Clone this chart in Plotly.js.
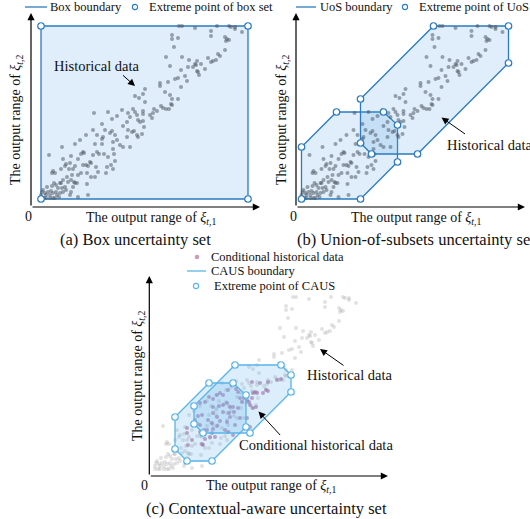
<!DOCTYPE html>
<html><head><meta charset="utf-8">
<script src="https://cdn.plot.ly/plotly-3.0.1.min.js"></script>
<style>html,body{margin:0;padding:0;background:#fff}#chart{width:530px;height:519px}</style>
</head><body><div id="chart"></div>
<script>
// Historical data (output of xi_{t,1}, xi_{t,2})
const histX = [138,141,154,176,188,190,194,194,201,170,170,131,131,137,133,184,186,185,188,184,179,177,167,172,170,175,125,141,148,156,154,155,160,152,147,140,129,164,157,158,156,144,137,134,146,127,119,119,140,124,129,104,102,137,131,130,131,120,122,125,128,116,112,113,104,
  109,111,102,103,
  94,98,92,94,102,96,97,99,102,87,89,81,76,71,67,53,61,82,86,87,91,93,96,97,101,79,82,89,86,71,69,64,62,61,56,52,74,76,72,45,54,61,72,
  39,34,21,8,42,43,40,52,56,58,63,67,73,30,37,49,50,47,45,42,22,25,24,29,34,28,32,20,12,14,11,74,70,66,72,65,55,57,54,50,46,40,37,31,30,27,33,34,36,32,30,26,22,20,19,15,13,11,10,6,7,2,0,1,4,5,9,12,15,16,18,14,12,9,5,3,0,19,22,25,21,24,46,47,37,29,17];
const histY = [173,173,171,173,173,172,172,170,167,168,163,164,160,161,152,162,160,158,159,149,143,145,141,138,137,139,142,142,139,138,135,134,135,132,132,129,133,130,127,124,128,123,121,120,118,117,116,113,112,107,104,110,105,100,100,95,94,93,91,90,90,88,86,90,97,
  84,81,88,72,
  103,101,90,87,85,84,79,77,78,86,82,89,83,80,87,86,75,73,77,69,67,68,64,62,65,54,52,52,62,68,66,69,62,60,64,69,64,59,57,64,55,55,50,
  59,55,52,44,47,46,45,44,47,45,45,42,45,43,40,37,36,33,34,34,40,35,33,36,33,30,30,30,28,26,26,38,34,32,30,26,32,27,22,22,26,26,24,24,19,17,17,16,16,12,7,22,19,16,16,14,16,13,8,12,7,9,4,7,6,4,4,6,7,4,2,1,1,1,1,1,1,6,7,9,11,12,15,4,2,4,11];

// Conditional historical data (panel c)
const condX = [97,105,113,122,126,100,102,98,111,113,92,97,95,98,89,85,83,81,77,73,68,65,62,58,54,50,45,58,64,68,72,75,78,79,74,68,58,62,53,47,43,40,45,57,62,65,72,75,85,80,92,95,58,52,49,45,32,57,70,73,78,60,55,83,87,32,33,48,50,37,47,108,101,94];
const condY = [88,87,88,90,91,78,77,77,80,79,70,72,65,62,72,72,78,81,85,80,75,77,75,71,73,68,67,63,64,65,67,63,63,58,57,58,57,53,50,55,54,50,45,47,44,49,48,53,52,45,52,43,41,40,40,38,42,37,40,38,35,33,33,62,68,37,25,25,31,30,26,77,63,68];

// Uncertainty-set extreme points
const boxX = [0, 207];
const boxY = [0, 173];
const uosLowX = [0, 35, 82, 96, 96, 59, 0];
const uosLowY = [52, 87, 87, 74, 37, 0, 0];
const uosUpX  = [59, 132, 207, 207, 116, 70, 59];
const uosUpY  = [100, 173, 173, 136, 45, 45, 56];
const causLowX = [20, 54, 78, 91, 91, 57, 32, 20];
const causLowY = [53, 87, 87, 75, 43, 9, 9, 21];
const causUpX  = [39, 80, 126, 136, 136, 95, 48, 39];
const causUpY  = [64, 105, 105, 95, 78, 37, 37, 46];

const W = 530, H = 519;
const PX = v => v / W, PY = v => 1 - v / H;
const FONT = '"Liberation Serif", "Times New Roman", serif';
const INK = '#111111';
const BLUE = '#2A7BC0', LBLUE = '#5AB4EA';
const FILL = 'rgba(95,172,228,0.20)', FILLC = 'rgba(95,178,235,0.22)';
const GRAY = 'rgba(75,85,96,0.52)', LGRAY = 'rgba(150,150,150,0.28)', PURPLE = 'rgba(170,95,150,0.62)';

const boxPX = [boxX[0], boxX[1], boxX[1], boxX[0]];
const boxPY = [boxY[0], boxY[0], boxY[1], boxY[1]];

function closed(a) { return a.concat([a[0]]); }
function poly(xs, ys, n, color, fill) {
  return {type:'scatter', mode:'lines', x:closed(xs), y:closed(ys), xaxis:'x'+n, yaxis:'y'+n,
    fill:'toself', fillcolor:fill, line:{color:color, width:1.3}, hoverinfo:'skip', showlegend:false};
}
function verts(xs, ys, n, color) {
  return {type:'scatter', mode:'markers', x:xs, y:ys, xaxis:'x'+n, yaxis:'y'+n, cliponaxis:false,
    marker:{symbol:'circle', size:6.5, color:'#ffffff', line:{color:color, width:1.2}}, hoverinfo:'skip', showlegend:false};
}
function pts(xs, ys, n, color, size) {
  return {type:'scatter', mode:'markers', x:xs, y:ys, xaxis:'x'+n, yaxis:'y'+n, cliponaxis:false,
    marker:{size:size, color:color, line:{width:0}}, hoverinfo:'skip', showlegend:false};
}

const data = [
  poly(boxPX, boxPY, '', BLUE, FILL),
  pts(histX, histY, '', GRAY, 4),
  verts(boxPX, boxPY, '', BLUE),

  poly(uosLowX, uosLowY, '2', BLUE, FILL),
  poly(uosUpX, uosUpY, '2', BLUE, FILL),
  pts(histX, histY, '2', GRAY, 4),
  verts(uosLowX, uosLowY, '2', BLUE),
  verts(uosUpX, uosUpY, '2', BLUE),

  pts(histX, histY, '3', LGRAY, 4),
  pts(condX, condY, '3', PURPLE, 4),
  poly(causLowX, causLowY, '3', LBLUE, FILLC),
  poly(causUpX, causUpY, '3', LBLUE, FILLC),
  verts(causLowX, causLowY, '3', LBLUE),
  verts(causUpX, causUpY, '3', LBLUE)
];

function txt(text, x, y, size, opts) {
  return Object.assign({xref:'paper', yref:'paper', x:PX(x), y:PY(y), text:text, showarrow:false,
    font:{family:FONT, size:size, color:INK}, xanchor:'center', yanchor:'middle'}, opts || {});
}
function arrow(hx, hy, tx, ty, w, s) {
  return {xref:'paper', yref:'paper', x:PX(hx), y:PY(hy), ax:tx - hx, ay:ty - hy, axref:'pixel', ayref:'pixel',
    text:'', showarrow:true, arrowhead:2, arrowsize:s, arrowwidth:w, arrowcolor:'#000', standoff:0, startstandoff:0};
}
const xt1 = 'The output range of <i>ξ</i><sub><i>t</i>,1</sub>';
const yt2 = 'The output range of <i>ξ</i><sub><i>t</i>,2</sub>';
const L = {xanchor:'left'};

const annotations = [
  // panel (a)
  txt('Box boundary', 48, 7, 12.5, L),
  txt('Extreme point of box set', 147, 7, 12.5, L),
  arrow(260, 207, 31, 207, 1.2, 1.2),
  arrow(31, 13, 31, 207, 1.2, 1.2),
  txt('Historical data', 97, 66, 14.5),
  arrow(135, 86, 121.5, 74, 1, 1.4),
  txt(xt1, 151, 218, 14),
  txt('0', 28, 216, 14),
  txt(yt2, 16, 120, 14, {textangle:-90}),
  txt('(a) Box uncertainty set', 135.5, 239, 16.5),
  // panel (b)
  txt('UoS boundary', 318, 7, 12.5, L),
  txt('Extreme point of UoS', 417, 7, 12.5, L),
  arrow(525, 207, 296, 207, 1.2, 1.2),
  arrow(296, 13, 296, 207, 1.2, 1.2),
  txt('Historical data', 445, 145, 14.5, L),
  arrow(441.5, 117.5, 466.5, 135, 1, 1.4),
  txt(xt1, 416, 218, 14),
  txt('0', 293, 216, 14),
  txt(yt2, 282, 120, 14, {textangle:-90}),
  txt('(b) Union-of-subsets uncertainty set', 295, 239, 16.5, L),
  // panel (c)
  txt('Conditional historical data', 209, 257, 12.5, L),
  txt('CAUS boundary', 209, 271, 12.5, L),
  txt('Extreme point of CAUS', 212, 286, 12.5, L),
  arrow(388, 476, 149.3, 476, 1.2, 1.2),
  arrow(149.3, 276, 149.3, 476, 1.2, 1.2),
  txt('Historical data', 305, 375, 14.5, L),
  arrow(320, 349, 345, 366.5, 1, 1.4),
  txt('Conditional historical data', 236.5, 445, 14.5, L),
  arrow(258.5, 411.5, 281.5, 436.5, 1, 1.4),
  txt(xt1, 271, 486, 14),
  txt('0', 144, 485, 14),
  txt(yt2, 138, 376, 14, {textangle:-90}),
  txt('(c) Contextual-aware uncertainty set', 266, 508, 16.5)
];

function legLine(x0, x1, y, color) {
  return {type:'line', xref:'paper', yref:'paper', x0:PX(x0), x1:PX(x1), y0:PY(y), y1:PY(y), line:{color:color, width:1.3}};
}
function legDot(x, y, r, line, fill) {
  return {type:'circle', xref:'paper', yref:'paper', xsizemode:'pixel', ysizemode:'pixel',
    xanchor:PX(x), yanchor:PY(y), x0:-r, x1:r, y0:-r, y1:r, line:{color:line, width:1.1}, fillcolor:fill};
}
const shapes = [
  legLine(25, 47, 7, BLUE), legDot(135, 7, 2.6, BLUE, '#fff'),
  legLine(296, 316, 7, BLUE), legDot(405, 7, 2.6, BLUE, '#fff'),
  legDot(197, 257, 2.3, 'rgba(0,0,0,0)', PURPLE),
  legLine(187, 206, 271, LBLUE), legDot(196, 286, 2.6, LBLUE, '#fff')
];

const ax = (dom, rng, anchor) => ({domain:dom, range:rng, anchor:anchor, visible:false, fixedrange:true, showgrid:false, zeroline:false});
const layout = {
  width:W, height:H, margin:{l:0, r:0, t:0, b:0}, paper_bgcolor:'#fff', plot_bgcolor:'rgba(0,0,0,0)',
  showlegend:false, font:{family:FONT, color:INK},
  xaxis:  ax([PX(31), PX(265)], [-10, 224], 'y'),
  yaxis:  ax([PY(212), PY(10)], [-13, 189], 'x'),
  xaxis2: ax([PX(296), PX(530)], [-5.5, 228.5], 'y2'),
  yaxis2: ax([PY(212), PY(10)], [-13, 189], 'x2'),
  xaxis3: ax([PX(140), PX(400)], [-15, 245], 'y3'),
  yaxis3: ax([PY(480), PY(270)], [-10, 200], 'x3'),
  annotations:annotations, shapes:shapes
};
Plotly.newPlot('chart', data, layout, {staticPlot:true, displayModeBar:false});
</script></body></html>
